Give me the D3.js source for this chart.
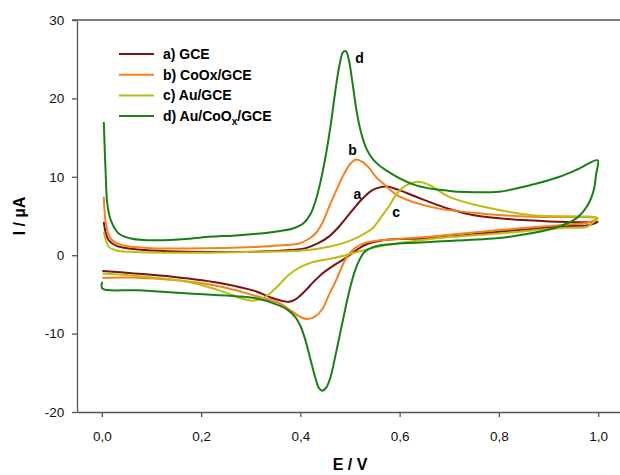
<!DOCTYPE html>
<html>
<head>
<meta charset="utf-8">
<script src="https://cdnjs.cloudflare.com/ajax/libs/d3/7.8.5/d3.min.js"></script>
<style>
  body { margin: 0; background: #fff; }
  svg { font-family: "Liberation Sans", Arial, sans-serif; }
</style>
</head>
<body>
<svg width="620" height="475"></svg>
<script>
// cyclic voltammograms, [E (V), I (µA)]
const gce = [[0.004,4.25],[0.008,2.8],[0.014,1.9],[0.03,1.2],[0.055,0.85],[0.1,0.6],[0.176,0.45],[0.31,0.45],[0.38,0.65],[0.411,0.9],[0.435,1.5],[0.458,2.4],[0.48,3.8],[0.505,5.75],[0.525,7.2],[0.545,8.3],[0.56,8.65],[0.575,8.75],[0.595,8.4],[0.633,7.45],[0.7,5.9],[0.75,5.1],[0.801,4.7],[0.902,4.3],[0.97,4.2],[0.999,4.25],
  [0.99,4.0],[0.976,3.8],[0.936,3.7],[0.801,3.0],[0.667,2.2],[0.566,1.9],[0.53,1.3],[0.512,0.6],[0.49,-0.4],[0.465,-1.4],[0.445,-2.3],[0.425,-3.5],[0.411,-4.47],[0.391,-5.6],[0.377,-5.95],[0.362,-5.8],[0.34,-5.4],[0.31,-4.6],[0.243,-3.6],[0.142,-2.75],[0.06,-2.3],[0.001,-2.0]];

const coox = [[0.004,7.45],[0.008,4.05],[0.014,2.6],[0.021,1.9],[0.035,1.4],[0.055,1.1],[0.1,0.9],[0.176,0.85],[0.31,1.06],[0.37,1.3],[0.398,1.5],[0.415,2.0],[0.431,2.8],[0.445,4.2],[0.458,6.2],[0.472,8.2],[0.485,10],[0.5,11.6],[0.512,12.2],[0.525,11.9],[0.539,11.1],[0.552,10.0],[0.566,9.2],[0.599,7.5],[0.667,6.1],[0.767,5.3],[0.868,4.9],[0.999,4.7],
  [0.99,4.4],[0.976,4.1],[0.936,3.9],[0.801,3.2],[0.667,2.4],[0.56,1.9],[0.532,1.6],[0.51,0.9],[0.492,-0.4],[0.472,-3.2],[0.458,-5.0],[0.445,-6.8],[0.43,-7.8],[0.414,-8.15],[0.398,-7.8],[0.384,-7.2],[0.357,-6.1],[0.31,-5.2],[0.243,-4.05],[0.15,-3.2],[0.06,-2.85],[0.001,-2.9]];

const au = [[0.004,3.0],[0.008,1.9],[0.014,1.06],[0.03,0.6],[0.055,0.43],[0.176,0.3],[0.31,0.43],[0.411,0.64],[0.46,1.1],[0.498,1.8],[0.525,2.6],[0.545,3.4],[0.562,4.8],[0.579,6.3],[0.595,7.9],[0.613,8.9],[0.636,9.36],[0.655,9.1],[0.667,8.7],[0.7,7.45],[0.767,6.2],[0.868,5.1],[0.999,4.7],
  [0.99,4.2],[0.976,3.6],[0.936,3.5],[0.801,2.77],[0.667,2.1],[0.566,1.2],[0.52,0.5],[0.465,-0.4],[0.424,-0.9],[0.398,-1.6],[0.375,-2.6],[0.357,-3.8],[0.34,-4.8],[0.324,-5.5],[0.303,-5.8],[0.28,-5.5],[0.256,-4.9],[0.2,-3.8],[0.156,-3.2],[0.06,-2.6],[0.001,-2.34]];

const aucoox = [[0.004,17.0],[0.008,10.0],[0.011,6.6],[0.018,4.47],[0.034,2.77],[0.061,2.1],[0.108,1.9],[0.176,2.1],[0.216,2.34],[0.277,2.55],[0.35,3.0],[0.385,3.4],[0.405,4.0],[0.42,5.2],[0.431,7.0],[0.441,9.5],[0.452,13.0],[0.462,17.0],[0.471,21.2],[0.479,24.3],[0.486,25.9],[0.492,26.0],[0.498,24.8],[0.505,22.0],[0.513,18.5],[0.522,15.7],[0.533,13.6],[0.548,12.1],[0.572,10.85],[0.633,8.9],[0.7,8.2],[0.734,8.05],[0.8,8.1],[0.835,8.5],[0.88,9.2],[0.922,10.0],[0.96,11.0],[0.999,12.1],
  [0.996,10.4],[0.991,8.3],[0.979,6.4],[0.956,4.7],[0.909,3.4],[0.841,2.55],[0.801,2.2],[0.667,1.7],[0.566,1.3],[0.545,1.0],[0.529,0.4],[0.519,-0.6],[0.51,-2.0],[0.5,-4.2],[0.49,-7.0],[0.48,-10.0],[0.47,-13.0],[0.461,-15.5],[0.452,-16.9],[0.444,-17.3],[0.437,-16.9],[0.43,-15.6],[0.42,-13.2],[0.41,-10.8],[0.4,-9.0],[0.39,-7.9],[0.375,-7.0],[0.357,-6.4],[0.31,-5.5],[0.176,-4.9],[0.075,-4.47],[0.001,-4.25],[0.001,-3.4]];

const seriesNames = ["a) GCE", "b) CoOx/GCE", "c) Au/GCE", "d) Au/CoOx/GCE"];
const seriesColors = ["#7a1212", "#f7801c", "#bcbc12", "#168016"];
const xTicks = [0, 0.2, 0.4, 0.6, 0.8, 1.0];
const yTicks = [-20, -10, 0, 10, 20, 30];
// curve letters, placed in data units
const curveLabels = [["a", 0.515, 7.8], ["b", 0.505, 13.4], ["c", 0.593, 5.5], ["d", 0.519, 25.1]];

const svg = d3.select("svg");
const pL = 77, pR = 623, pT = 20, pB = 412;

const x = d3.scaleLinear().domain([-0.05, 1.05]).range([pL, pR]);
const y = d3.scaleLinear().domain([-20, 30]).range([pB, pT]);

const loc = d3.formatLocale({decimal: ",", thousands: ".", grouping: [3], currency: ["", ""], minus: "-"});

// frame: top and right in black
svg.append("line").attr("x1", pL - 5).attr("x2", pR).attr("y1", pT).attr("y2", pT)
  .attr("stroke", "#000").attr("stroke-width", 1.2);
svg.append("line").attr("x1", pR).attr("x2", pR).attr("y1", pT).attr("y2", pB)
  .attr("stroke", "#000").attr("stroke-width", 1.2);

const xAxis = svg.append("g").attr("transform", `translate(0,${pB})`)
  .call(d3.axisBottom(x).tickValues(xTicks).tickFormat(loc.format(".1f")).tickSize(5).tickSizeOuter(0));
const yAxis = svg.append("g").attr("transform", `translate(${pL},0)`)
  .call(d3.axisLeft(y).tickValues(yTicks).tickFormat(loc.format("d")).tickSize(5).tickSizeOuter(0));

[xAxis, yAxis].forEach((a) => {
  a.select(".domain").attr("stroke", "#555").attr("stroke-width", 1.3);
  a.selectAll(".tick line").attr("stroke", "#555").attr("stroke-width", 1.3);
  a.selectAll("text").attr("font-size", 13.5).attr("fill", "#111")
    .attr("font-family", "Liberation Sans, Arial, sans-serif");
});
xAxis.selectAll("text").attr("dy", "1.55em");
yAxis.selectAll("text").attr("dx", "-0.35em");

svg.append("text").attr("x", (pL + pR) / 2).attr("y", 470).attr("text-anchor", "middle")
  .attr("font-size", 16).attr("font-weight", "bold").text("E / V");
svg.append("text").attr("transform", `translate(25,${(pT + pB) / 2}) rotate(-90)`)
  .attr("text-anchor", "middle").attr("font-size", 16).attr("font-weight", "bold").text("I / µA");

const line = d3.line().x((d) => x(d[0])).y((d) => y(d[1])).curve(d3.curveCatmullRom.alpha(0.5));

[gce, coox, au, aucoox].forEach((s, i) => {
  svg.append("path").datum(s).attr("d", line).attr("fill", "none")
    .attr("stroke", seriesColors[i]).attr("stroke-width", 2).attr("stroke-linejoin", "round");
});

curveLabels.forEach((c) => {
  svg.append("text").attr("x", x(c[1])).attr("y", y(c[2])).attr("text-anchor", "middle")
    .attr("dominant-baseline", "central").attr("font-size", 14).attr("font-weight", "bold").text(c[0]);
});

// legend
const legend = svg.append("g");
seriesNames.forEach((name, i) => {
  const ly = 54 + i * 20.7;
  legend.append("line").attr("x1", 119).attr("x2", 154).attr("y1", ly).attr("y2", ly)
    .attr("stroke", seriesColors[i]).attr("stroke-width", 2);
  const t = legend.append("text").attr("x", 163).attr("y", ly + 5)
    .attr("font-size", 14).attr("font-weight", "bold");
  if (i === 3) {
    t.append("tspan").text("d) Au/CoO");
    t.append("tspan").attr("font-size", 10).attr("dy", 4).text("x");
    t.append("tspan").attr("dy", -4).text("/GCE");
  } else {
    t.text(name);
  }
});
</script>
</body>
</html>
